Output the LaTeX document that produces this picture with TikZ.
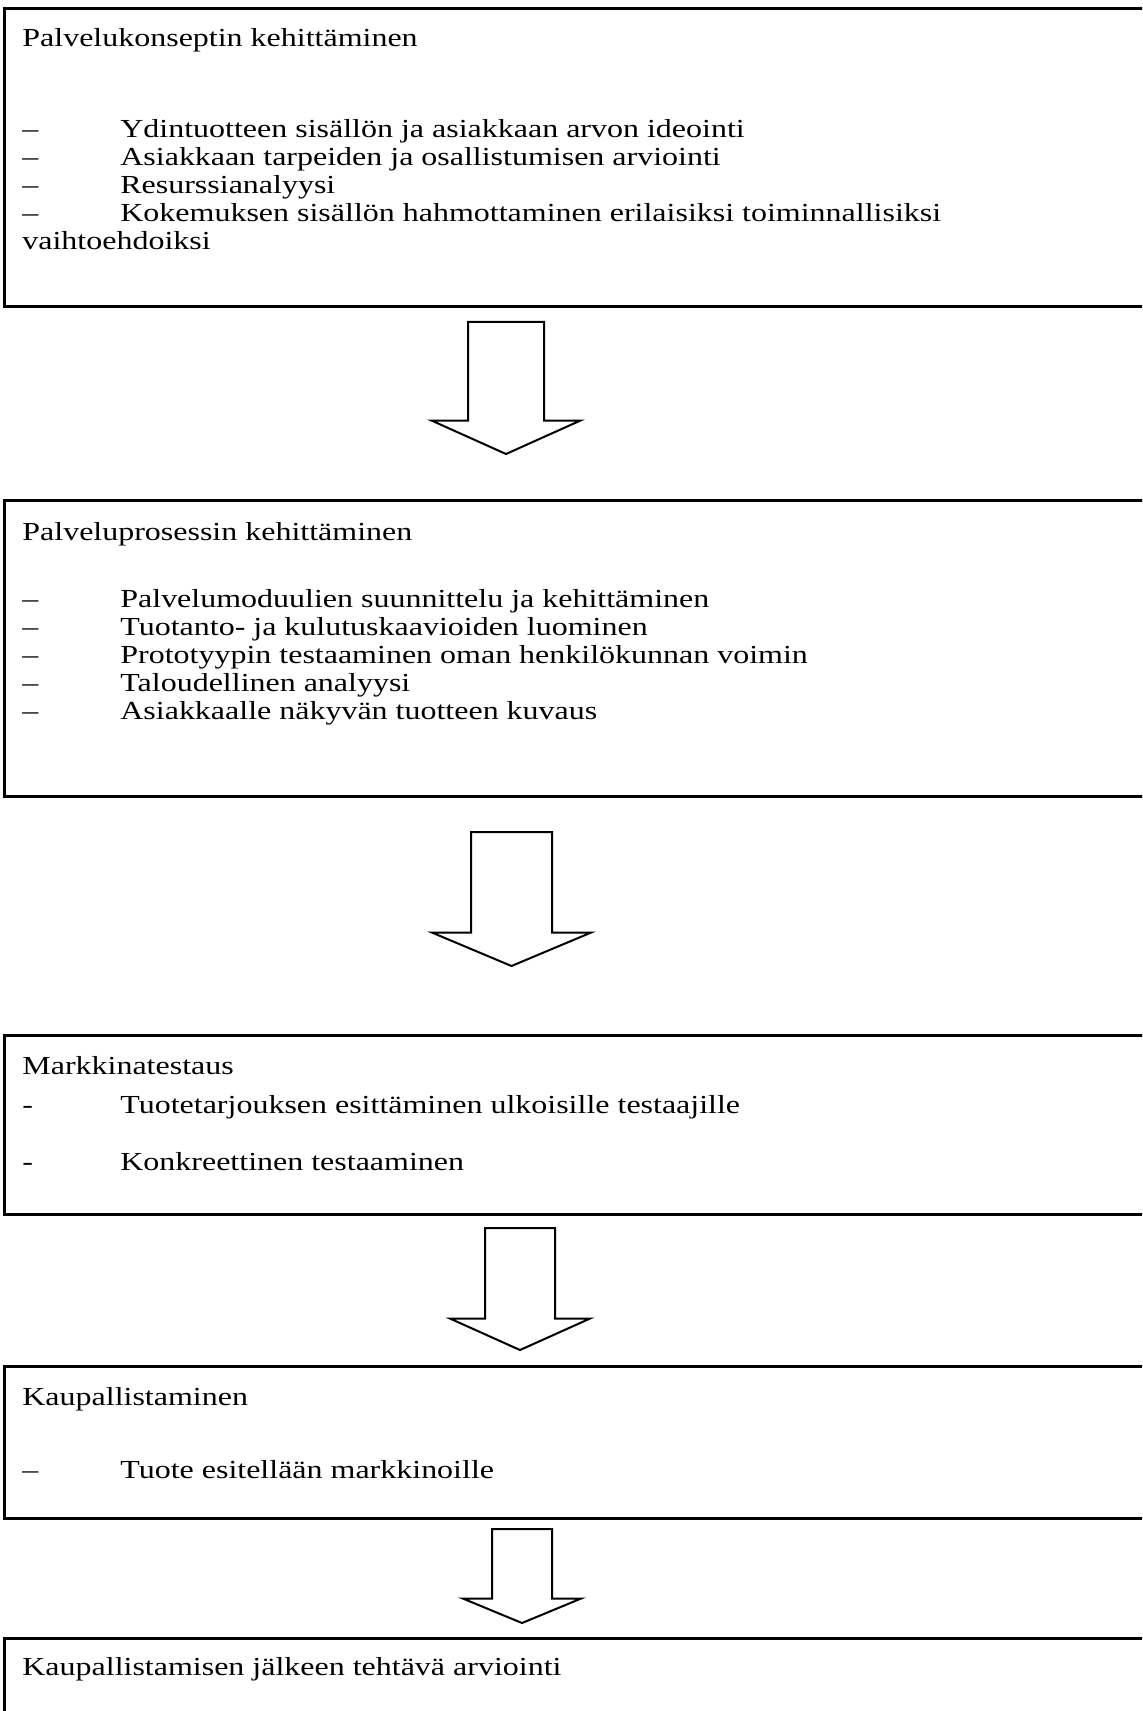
\documentclass[tikz,border=0pt]{standalone}
\usepackage{fontspec}
\setmainfont{Liberation Serif}[FakeStretch=1.23]
\usetikzlibrary{shapes.arrows}
\newcommand{\dashline}[2]{\makebox[49pt][l]{#1}#2}
\tikzset{
  stage/.style={
    rectangle,
    draw=black,
    line width=1.3pt,
    anchor=north west,
    inner sep=0pt,
    minimum width=585pt
  },
  rowtext/.style={
    anchor=base west,
    inner sep=0pt,
    font=\fontsize{13}{14}\selectfont
  },
  flowarrow/.style={
    single arrow,
    draw=black,
    line width=1pt,
    fill=white,
    shape border rotate=270,
    anchor=tail
  }
}
\begin{document}
\begin{tikzpicture}[x=0.5pt,y=-0.5pt]
  \useasboundingbox (0,0) rectangle (1142,1711);
  \clip (0,0) rectangle (1142,1711);

  % stage boxes
  \node[stage, minimum height=149pt] (concept) at (3,7) {};
  \node[stage, minimum height=148pt] (process) at (3,499) {};
  \node[stage, minimum height=89.5pt] (market) at (3,1034) {};
  \node[stage, minimum height=76pt] (launch) at (3,1365) {};
  \node[stage, minimum height=60pt] (review) at (3,1637) {};

  % texts of the first box
  \node[rowtext] (concepttitle) at (22,47) {Palvelukonseptin kehittäminen};
  \node[rowtext] (concept1) at (22,138) {\dashline{–}{Ydintuotteen sisällön ja asiakkaan arvon ideointi}};
  \node[rowtext] (concept2) at (22,166) {\dashline{–}{Asiakkaan tarpeiden ja osallistumisen arviointi}};
  \node[rowtext] (concept3) at (22,194) {\dashline{–}{Resurssianalyysi}};
  \node[rowtext] (concept4) at (22,222) {\dashline{–}{Kokemuksen sisällön hahmottaminen erilaisiksi toiminnallisiksi}};
  \node[rowtext] (concept5) at (22,250) {vaihtoehdoiksi};

  % texts of the second box
  \node[rowtext] (processtitle) at (22,540) {Palveluprosessin kehittäminen};
  \node[rowtext] (process1) at (22,607) {\dashline{–}{Palvelumoduulien suunnittelu ja kehittäminen}};
  \node[rowtext] (process2) at (22,635) {\dashline{–}{Tuotanto- ja kulutuskaavioiden luominen}};
  \node[rowtext] (process3) at (22,663) {\dashline{–}{Prototyypin testaaminen oman henkilökunnan voimin}};
  \node[rowtext] (process4) at (22,691) {\dashline{–}{Taloudellinen analyysi}};
  \node[rowtext] (process5) at (22,719) {\dashline{–}{Asiakkaalle näkyvän tuotteen kuvaus}};

  % texts of the third box
  \node[rowtext] (markettitle) at (22,1074) {Markkinatestaus};
  \node[rowtext] (market1) at (22,1113) {\dashline{-}{Tuotetarjouksen esittäminen ulkoisille testaajille}};
  \node[rowtext] (market2) at (22,1170) {\dashline{-}{Konkreettinen testaaminen}};

  % texts of the fourth and fifth box
  \node[rowtext] (launchtitle) at (22,1405) {Kaupallistaminen};
  \node[rowtext] (launch1) at (22,1478) {\dashline{–}{Tuote esitellään markkinoille}};
  \node[rowtext] (reviewtitle) at (22,1675) {Kaupallistamisen jälkeen tehtävä arviointi};

  % block arrows between the stages
  \node[flowarrow, minimum height=66pt, inner sep=18.5pt,
        single arrow head extend=18.25pt, single arrow tip angle=131.6] (step1) at (506,321) {};
  \node[flowarrow, minimum height=67pt, inner sep=19.75pt,
        single arrow head extend=19.5pt, single arrow tip angle=134.4] (step2) at (511.5,831) {};
  \node[flowarrow, minimum height=61pt, inner sep=17pt,
        single arrow head extend=17.5pt, single arrow tip angle=131.6] (step3) at (520,1227) {};
  \node[flowarrow, minimum height=47pt, inner sep=14.5pt,
        single arrow head extend=14.5pt, single arrow tip angle=135] (step4) at (522,1528) {};
\end{tikzpicture}
\end{document}
